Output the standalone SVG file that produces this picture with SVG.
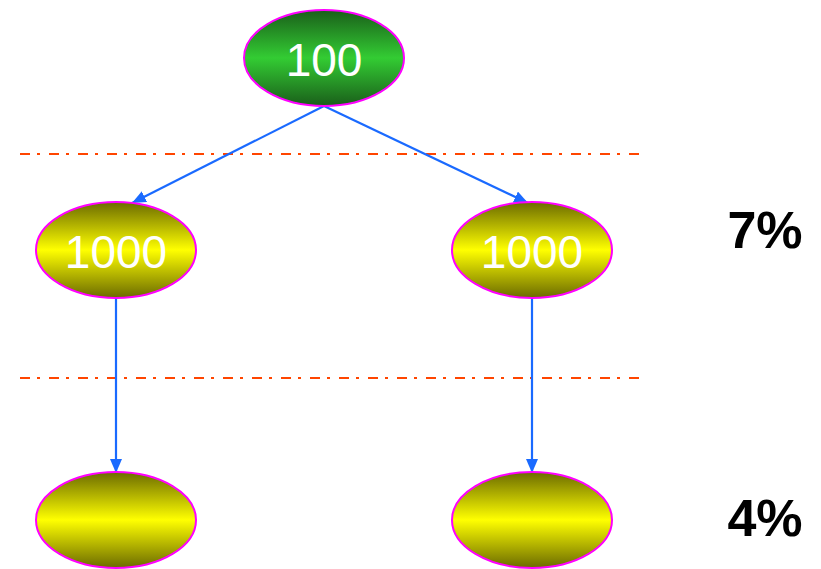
<svg xmlns="http://www.w3.org/2000/svg" width="821" height="569" viewBox="0 0 821 569">
<defs>
<linearGradient id="gGreen" x1="0" y1="0" x2="0" y2="1">
<stop offset="0" stop-color="#1a5e1a"/>
<stop offset="0.5" stop-color="#33cc33"/>
<stop offset="1" stop-color="#1a5e1a"/>
</linearGradient>
<linearGradient id="gYellow" x1="0" y1="0" x2="0" y2="1">
<stop offset="0" stop-color="#6b6b00"/>
<stop offset="0.5" stop-color="#ffff00"/>
<stop offset="1" stop-color="#6b6b00"/>
</linearGradient>
<marker id="arr" viewBox="0 0 14 12" refX="14" refY="6" markerWidth="14" markerHeight="12" markerUnits="userSpaceOnUse" orient="auto">
<path d="M0,0 L14,6 L0,12 Z" fill="#1a6aff"/>
</marker>
<style>
.node{stroke:#ff00ff;stroke-width:2}
.lbl{font-family:"Liberation Sans",Arial,sans-serif;font-size:46px;fill:#ffffff;text-anchor:middle}
.pct{font-family:"Liberation Sans",Arial,sans-serif;font-size:52px;font-weight:bold;fill:#000000;text-anchor:middle}
.sep{stroke:#ff4500;stroke-width:2.2;stroke-dasharray:10 7 3 9;fill:none}
.edge{stroke:#1a6aff;stroke-width:2.2;fill:none;marker-end:url(#arr)}
</style>
</defs>
<rect width="821" height="569" fill="#ffffff"/>
<g id="separators">
<line class="sep" x1="20" y1="154" x2="645" y2="154"/>
<line class="sep" x1="20" y1="378" x2="645" y2="378"/>
</g>
<g id="connectors">
<line class="edge" x1="324" y1="106" x2="132" y2="203"/>
<line class="edge" x1="324" y1="106" x2="528" y2="203"/>
<line class="edge" x1="116" y1="298" x2="116" y2="473"/>
<line class="edge" x1="532" y1="298" x2="532" y2="473"/>
</g>
<g id="n100">
<ellipse class="node" cx="324" cy="58" rx="80" ry="48" fill="url(#gGreen)"/>
<text class="lbl" x="324" y="76">100</text>
</g>
<g id="n1000L">
<ellipse class="node" cx="116" cy="250" rx="80" ry="48" fill="url(#gYellow)"/>
<text class="lbl" x="116" y="268">1000</text>
</g>
<g id="n1000R">
<ellipse class="node" cx="532" cy="250" rx="80" ry="48" fill="url(#gYellow)"/>
<text class="lbl" x="532" y="268">1000</text>
</g>
<g id="nBL">
<ellipse class="node" cx="116" cy="520" rx="80" ry="48" fill="url(#gYellow)"/>
</g>
<g id="nBR">
<ellipse class="node" cx="532" cy="520" rx="80" ry="48" fill="url(#gYellow)"/>
</g>
<g id="labels">
<text class="pct" x="765" y="248">7%</text>
<text class="pct" x="765" y="536">4%</text>
</g>
</svg>
